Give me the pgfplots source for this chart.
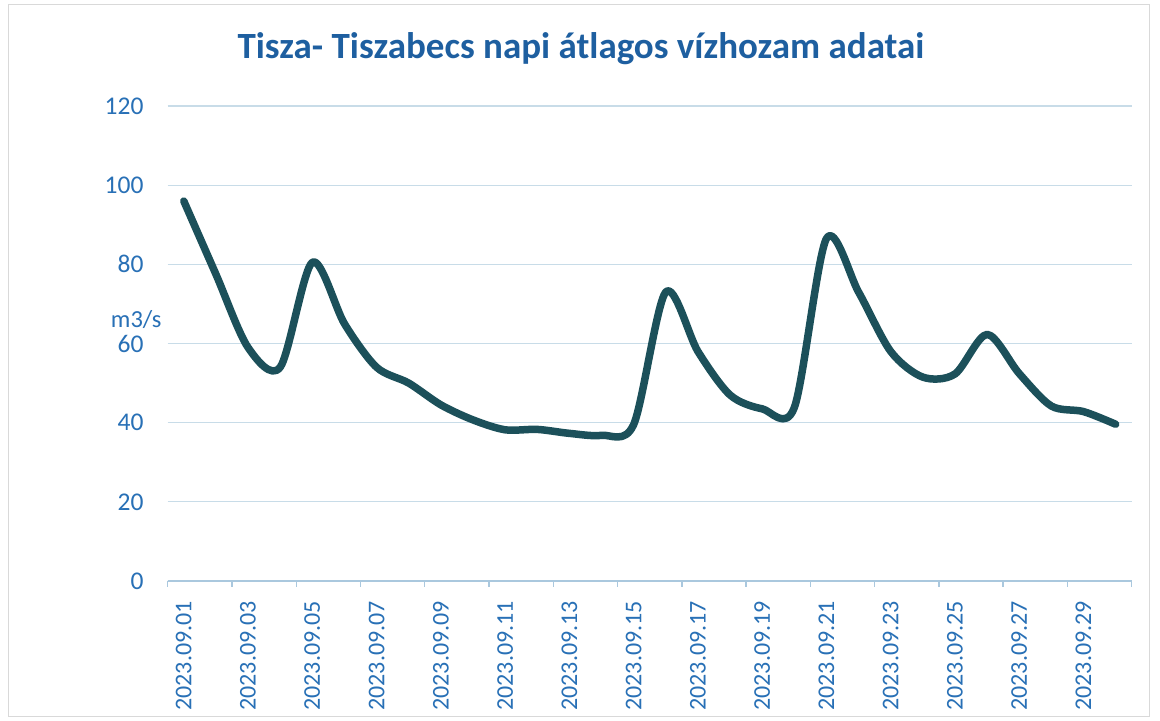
\documentclass[border=0pt]{standalone}
\usepackage{pgfplots}
\pgfplotsset{compat=1.18}
\usepackage{fontspec}
\setmainfont{Carlito}
\definecolor{linec}{RGB}{28,80,90}
\definecolor{gridc}{RGB}{200,220,232}
\definecolor{axc}{RGB}{170,200,222}
\definecolor{tickc}{RGB}{40,112,182}
\definecolor{titlec}{RGB}{30,95,160}
\begin{document}
\begin{tikzpicture}
\useasboundingbox (0,0) rectangle (1160bp,721bp);
\fill[white] (0,0) rectangle (1160bp,721bp);
\draw[gray!30, line width=1bp] (8bp,4bp) rectangle (1149bp,716bp);
\begin{axis}[
  at={(167.7bp,140bp)}, anchor=south west,
  scale only axis, width=964bp, height=475bp,
  xmin=0.5, xmax=30.5, ymin=0, ymax=120,
  axis x line*=bottom, axis y line*=left,
  x axis line style={-, draw=axc, line width=1.6bp},
  y axis line style={draw=none},
  ytick={0,20,...,120},
  ymajorgrids, grid style={draw=gridc, line width=1.3bp},
  xtick={1,3,...,29},
  xticklabels={2023.09.01,2023.09.03,2023.09.05,2023.09.07,2023.09.09,2023.09.11,2023.09.13,2023.09.15,2023.09.17,2023.09.19,2023.09.21,2023.09.23,2023.09.25,2023.09.27,2023.09.29},
  minor xtick={0.5,2.5,...,30.5},
  xtick align=outside,
  major tick length=0pt, minor tick length=6bp,
  minor tick style={draw=axc, line width=1.4bp},
  ytick style={draw=none},
  tick label style={font=\fontsize{25.5bp}{30bp}\selectfont, text=tickc},
  /pgf/number format/assume math mode=true,
  xticklabel style={rotate=90, anchor=east, inner ysep=0pt, inner xsep=20bp, font=\fontsize{24bp}{28bp}\selectfont},
  yticklabel style={anchor=east, inner sep=0pt, xshift=-24bp},
  every axis y label/.style={at={(0,0.55)}, anchor=east, inner sep=0pt, xshift=-6bp, font=\fontsize{24.5bp}{29bp}\selectfont, text=tickc},
  ylabel={m3/s},
  title={Tisza- Tiszabecs napi átlagos vízhozam adatai},
  title style={at={(0.4287,1.0884)}, anchor=base, inner sep=0pt, font=\fontsize{37bp}{44bp}\selectfont\bfseries, text=titlec},
]
\addplot[linec, line width=7.5bp, smooth, tension=0.5, line cap=round, line join=round] coordinates {
(1,96) (2,77.5) (3,59) (4,54) (5,80.5) (6,65) (7,54) (8,50) (9,44.5) (10,40.7)
(11,38.2) (12,38.3) (13,37.3) (14,36.8) (15,39.5) (16,73) (17,58) (18,47) (19,43.5) (20,43.8)
(21,86.5) (22,73) (23,58) (24,51.5) (25,52.3) (26,62.3) (27,52.4) (28,44.2) (29,42.8) (30,39.6)
};
\end{axis}
\end{tikzpicture}
\end{document}
